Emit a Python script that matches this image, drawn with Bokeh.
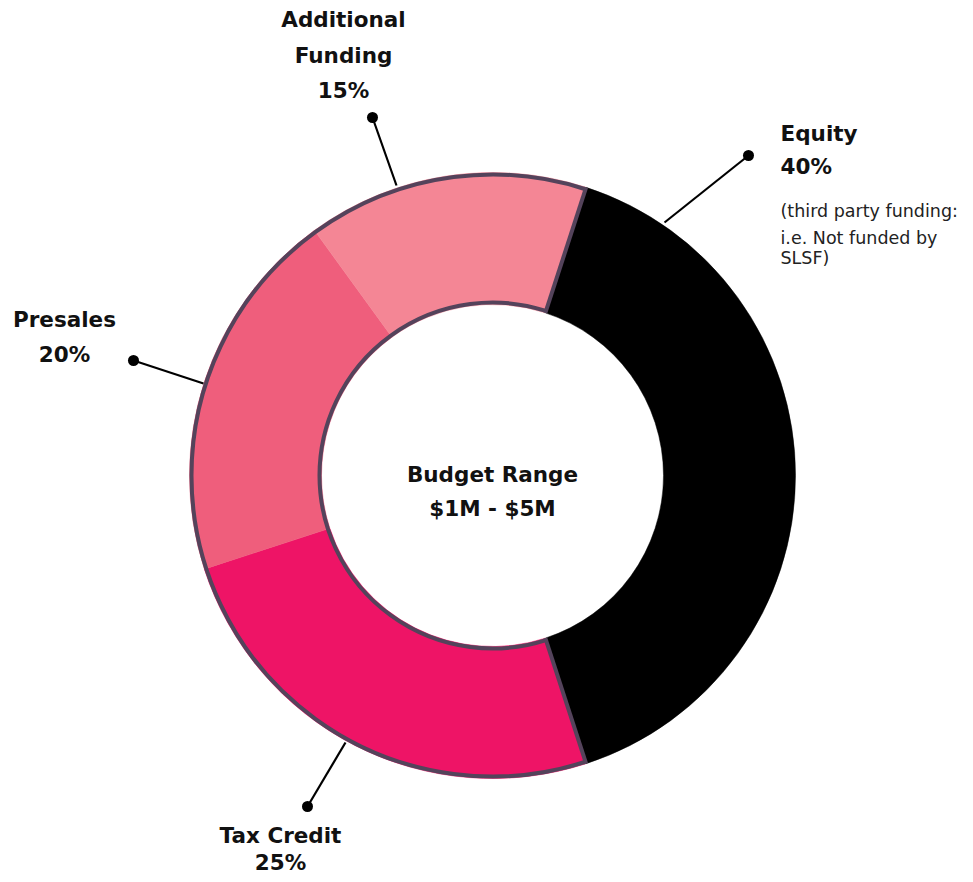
import math
from bokeh.plotting import figure
from bokeh.models import Range1d, ColumnDataSource
from bokeh.core.properties import value
from bokeh.embed import file_html
from bokeh.resources import INLINE

# ---- data ----
categories = ["Equity", "Tax Credit", "Presales", "Additional Funding"]
shares = [40, 25, 20, 15]
colors = ["#000000", "#EE1466", "#EF5E7C", "#F48695"]
label_titles = [["Equity", "40%"], ["Tax Credit", "25%"], ["Presales", "20%"], ["Additional", "Funding", "15%"]]
equity_note = ["(third party funding:", "i.e. Not funded by", "SLSF)"]
center_text = ["Budget Range", "$1M - $5M"]

W, H = 965, 874
FONT = "DejaVu Sans"

def Y(py):
    return H - py

p = figure(width=W, height=H, output_backend="svg", toolbar_location=None,
           x_range=Range1d(0, W), y_range=Range1d(0, H),
           min_border=0, outline_line_color=None)
p.axis.visible = False
p.grid.visible = False
p.background_fill_color = "white"
p.border_fill_color = "white"

cx, cy = 492, Y(475)
r_out, r_in = 303, 171
offset_deg = 18.0  # clockwise-from-top angle where the first slice starts

total = sum(shares)
starts, ends = [], []
acc = offset_deg
for s in shares:
    th1 = acc
    th2 = acc + 360.0 * s / total
    starts.append(math.radians(90 - th2))
    ends.append(math.radians(90 - th1))
    acc = th2

src = ColumnDataSource(dict(x=[cx] * 4, y=[cy] * 4, start=starts, end=ends, color=colors))
p.annular_wedge(x="x", y="y", inner_radius=r_in, outer_radius=r_out,
                start_angle="start", end_angle="end", fill_color="color",
                line_color="color", line_width=0.5, source=src)

OUTLINE = "#54435B"
pink_start = starts[3]
pink_end = ends[1]
p.arc(x=[cx, cx], y=[cy, cy], radius=[r_out - 2, r_in + 2],
      start_angle=pink_start, end_angle=pink_end, direction="anticlock",
      line_color=OUTLINE, line_width=4)
for a in (starts[0], ends[0]):
    p.line([cx + r_in * math.cos(a), cx + r_out * math.cos(a)],
           [cy + r_in * math.sin(a), cy + r_out * math.sin(a)],
           line_color=OUTLINE, line_width=4)

# leader lines
leaders = [((664, 222), (748, 155)), ((345, 742), (307, 806)),
           ((203, 383), (133, 360)), ((396, 185), (372, 117))]
for (a, b) in leaders:
    p.line([a[0], b[0]], [Y(a[1]), Y(b[1])], line_color="#000000", line_width=2.2)
p.scatter([b[0] for _, b in leaders], [Y(b[1]) for _, b in leaders], size=11,
          fill_color="#000000", line_color=None)

def txt(x, py, s, align="center", size="21.5px", bold=True, color="#111111"):
    p.text(x=[x], y=[Y(py)], text=[s], text_align=align, text_baseline="middle",
           text_font=value(FONT), text_font_size=size,
           text_font_style="bold" if bold else "normal", text_color=color)

# Equity
txt(780, 133, label_titles[0][0], align="left")
txt(780, 166, label_titles[0][1], align="left")
for s, py in zip(equity_note, [210, 237, 257]):
    txt(780, py, s, align="left", size="17.5px", bold=False, color="#222222")
# Tax credit
txt(280, 835, label_titles[1][0])
txt(280, 862, label_titles[1][1])
# Presales
txt(64, 319, label_titles[2][0])
txt(64, 354, label_titles[2][1])
# Additional funding
for s, py in zip(label_titles[3], [19, 55, 90]):
    txt(343, py, s)
# center
txt(492, 474, center_text[0])
txt(492, 508, center_text[1])

open("out.html", "w").write(file_html(p, INLINE))
